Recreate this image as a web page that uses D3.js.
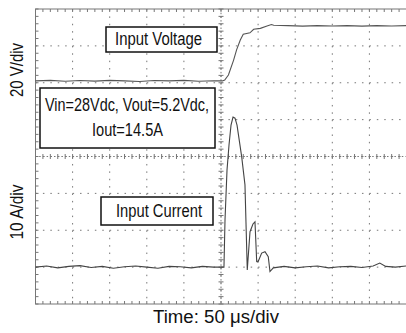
<!DOCTYPE html>
<html>
<head>
<meta charset="utf-8">
<script src="https://cdn.jsdelivr.net/npm/d3@7"></script>
<style>
  body { margin: 0; background: #fff; }
  svg { display: block; }
  text { font-family: 'Liberation Sans', Arial, sans-serif; fill: #111; }
</style>
</head>
<body>
<div id="chart"></div>
<script>
// Datos (tiempo en us, 50 us/div)
const voltajeTiempo = [0, 20, 40, 60, 80, 100, 120, 140, 160, 180, 200, 220, 240, 252, 255, 260, 267, 271, 276, 280, 289, 294, 303, 312, 318, 321, 340, 360, 380, 400, 420, 440, 460, 480, 500];
const voltajeValores = [0, 0.3, -0.2, 0.2, -0.1, 0.3, 0, -0.3, 0.2, 0, 0.3, -0.2, 0.1, 0, 0.5, 3.2, 11.3, 16.8, 22.2, 25.3, 26.1, 28, 28.5, 29.8, 30.6, 30.2, 30, 29.7, 30, 29.8, 30, 29.7, 30, 29.8, 30];

const corrienteTiempo = [0, 15, 30, 45, 60, 75, 90, 105, 120, 135, 150, 165, 180, 195, 210, 225, 240, 254, 255.4, 258.1, 260.8, 263.5, 266.2, 268.9, 271.6, 277.9, 282.3, 285.4, 289.1, 293.1, 295.8, 298.1, 299.8, 304.8, 309.3, 313.7, 316, 320.5, 335, 350, 365, 380, 395, 410, 425, 440, 455, 464, 472, 485, 500];
const corrienteValores = [0, 0.3, -0.2, 0.2, 0.4, -0.1, 0.2, -0.3, 0.1, 0.3, 0, -0.3, 0.2, 0.1, -0.2, 0.2, 0, 0, 12.8, 26.3, 33.1, 38.5, 40.7, 40.4, 38.5, 29.9, 22.3, -0.8, 9.6, 11.7, 12.3, 1.5, 1.4, 3.8, 4.2, 2.8, -1.2, -0.2, 0.2, -0.2, 0.1, 0.3, -0.2, 0.1, 0.2, -0.1, 0.3, 1.1, 0.2, 0, 0.3];

// Escalas de la pantalla del osciloscopio
const divX = 10, divY = 8;
const x = d3.scaleLinear().domain([0, 500]).range([35.5, 406.5]);
const yDiv = d3.scaleLinear().domain([0, divY]).range([304, 9]);
const yVolt = d3.scaleLinear().domain([-121, 39]).range([304, 9]);   // 20 V/div
const yAmp = d3.scaleLinear().domain([-10, 70]).range([304, 9]);     // 10 A/div

const svg = d3.select('#chart').append('svg')
  .attr('width', 406)
  .attr('height', 333);

// Reticula punteada
const reticula = svg.append('g').attr('stroke', '#777').attr('stroke-width', 1);
d3.range(1, divX).forEach(i => {
  reticula.append('line')
    .attr('x1', x(i * 50)).attr('x2', x(i * 50))
    .attr('y1', yDiv(8)).attr('y2', yDiv(0))
    .attr('stroke-dasharray', '1.5,5.88');
});
d3.range(1, divY).forEach(j => {
  reticula.append('line')
    .attr('x1', x(0)).attr('x2', x(500))
    .attr('y1', yDiv(j)).attr('y2', yDiv(j))
    .attr('stroke-dasharray', '1.5,5.92');
});

// Marcas menores en bordes y ejes centrales
const marcas = svg.append('g').attr('stroke', '#777').attr('stroke-width', 1);
d3.range(0, 501, 10).forEach(t => {
  marcas.append('line').attr('x1', x(t)).attr('x2', x(t)).attr('y1', yDiv(8)).attr('y2', yDiv(8) + 3);
  marcas.append('line').attr('x1', x(t)).attr('x2', x(t)).attr('y1', yDiv(0)).attr('y2', yDiv(0) - 3);
  marcas.append('line').attr('x1', x(t)).attr('x2', x(t)).attr('y1', yDiv(4) - 2.5).attr('y2', yDiv(4) + 2.5);
});
d3.range(0, divY + 0.01, 0.2).forEach(d => {
  marcas.append('line').attr('x1', x(0)).attr('x2', x(0) + 3).attr('y1', yDiv(d)).attr('y2', yDiv(d));
  marcas.append('line').attr('x1', x(250) - 2.5).attr('x2', x(250) + 2.5).attr('y1', yDiv(d)).attr('y2', yDiv(d));
});
marcas.append('line').attr('x1', x(0)).attr('x2', x(500)).attr('y1', yDiv(4)).attr('y2', yDiv(4)).attr('stroke-dasharray', '1.5,2.2');
marcas.append('line').attr('x1', x(250)).attr('x2', x(250)).attr('y1', yDiv(8)).attr('y2', yDiv(0)).attr('stroke-dasharray', '1.5,2.2');

// Borde
svg.append('rect')
  .attr('x', x(0)).attr('y', yDiv(8))
  .attr('width', x(500) - x(0)).attr('height', yDiv(0) - yDiv(8))
  .attr('fill', 'none').attr('stroke', '#777').attr('stroke-width', 1);

// Trazas
const lineaVoltaje = d3.line().x((d, i) => x(voltajeTiempo[i])).y(d => yVolt(d));
const lineaCorriente = d3.line().x((d, i) => x(corrienteTiempo[i])).y(d => yAmp(d));

svg.append('path')
  .attr('d', lineaVoltaje(voltajeValores))
  .attr('fill', 'none').attr('stroke', '#555').attr('stroke-width', 1.1);

svg.append('path')
  .attr('d', lineaCorriente(corrienteValores))
  .attr('fill', 'none').attr('stroke', '#444').attr('stroke-width', 1.1);

// Texto angosto ajustado al ancho medido
function texto(px, py, ancho, contenido, transform) {
  const t = svg.append('text')
    .attr('text-anchor', 'middle')
    .attr('textLength', ancho)
    .attr('lengthAdjust', 'spacingAndGlyphs')
    .style('font-size', '17.5px')
    .text(contenido);
  if (transform) t.attr('transform', transform);
  else t.attr('x', px).attr('y', py);
  return t;
}

// Cuadros de texto
function cuadro(x0, y0, w, h) {
  svg.append('rect')
    .attr('x', x0).attr('y', y0).attr('width', w).attr('height', h)
    .attr('fill', '#fff').attr('stroke', '#111').attr('stroke-width', 1.5);
}
cuadro(106, 27, 111, 25);
texto(158.5, 45, 87, 'Input Voltage');

cuadro(40, 88, 175, 60);
texto(127, 111, 164, 'Vin=28Vdc, Vout=5.2Vdc,');
texto(127.5, 136, 71, 'Iout=14.5A');

cuadro(101, 197, 112, 28);
texto(159, 217, 86, 'Input Current');

// Etiquetas de ejes
texto(0, 0, 54, '20 V/div', 'translate(23,70) rotate(-90)');
texto(0, 0, 55, '10 A/div', 'translate(23,212) rotate(-90)');
texto(216, 323, 126, 'Time: 50 \u03bcs/div');
</script>
</body>
</html>
